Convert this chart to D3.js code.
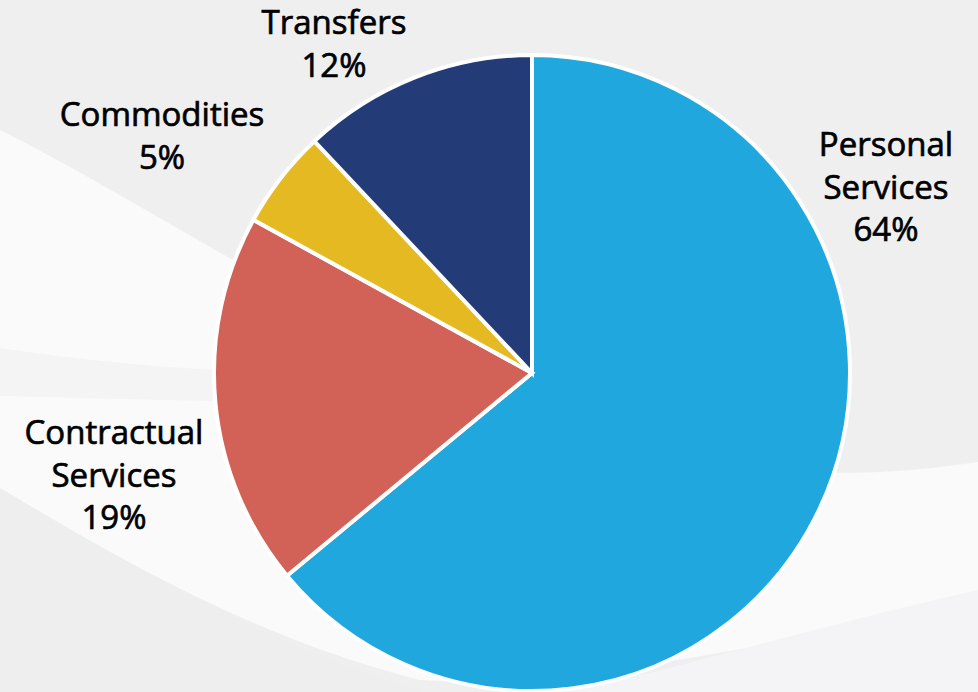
<!DOCTYPE html>
<html>
<head>
<meta charset="utf-8">
<script src="https://cdn.jsdelivr.net/npm/d3@7/dist/d3.min.js"></script>
<style>
  html, body { margin: 0; padding: 0; background: #efeff0; }
  svg { display: block; }
  text { font-family: "Open Sans", "Liberation Sans", Arial, sans-serif; }
</style>
</head>
<body>
<svg id="chart" width="978" height="692"></svg>
<script>
// Budget breakdown by expenditure category (percent of total)
const categories = ["Personal Services", "Contractual Services", "Commodities", "Transfers"];
const shares = [64, 19, 5, 12];
const colors = ["#20a8de", "#d26257", "#e5b921", "#233b77"];
// Label lines per category
const labelLines = [
  ["Personal", "Services", "64%"],
  ["Contractual", "Services", "19%"],
  ["Commodities", "5%"],
  ["Transfers", "12%"]
];
// Text anchor (centre x, first baseline y) for each label block
const labelAnchors = [[886, 156], [114, 444], [162, 126], [334, 34]];

const W = 978, H = 692;
const cx = 532, cy = 373, R = 318;
const svg = d3.select("#chart");

// Soft background swooshes
const bg = svg.append("g");
bg.append("rect").attr("width", W).attr("height", H).attr("fill", "#efeff0");
bg.append("path")
  .attr("d", "M0,130 C120,190 230,265 420,360 C600,450 760,495 978,462 L978,600 C800,640 560,690 420,680 C260,640 120,560 0,488 Z")
  .attr("fill", "#fafafb");
bg.append("path")
  .attr("d", "M0,348 C80,360 160,368 260,372 L260,402 C160,400 80,398 0,396 Z")
  .attr("fill", "#f4f4f5");
bg.append("path")
  .attr("d", "M978,590 C800,630 640,680 560,692 L978,692 Z")
  .attr("fill", "#f4f4f6");
bg.append("path")
  .attr("d", "M0,488 C120,560 260,640 420,692 L0,692 Z")
  .attr("fill", "#eeeeef");

// Pie
const pie = d3.pie().sort(null).value(d => d)(shares);
const arc = d3.arc().innerRadius(0).outerRadius(R);
const g = svg.append("g").attr("transform", `translate(${cx},${cy})`);
g.selectAll("path.slice")
  .data(pie)
  .join("path")
  .attr("class", "slice")
  .attr("d", arc)
  .attr("fill", (d, i) => colors[i])
  .attr("stroke", "#ffffff")
  .attr("stroke-width", 4)
  .attr("stroke-linejoin", "miter");

// Labels
const lineH = 42.5;
const labels = svg.append("g");
categories.forEach((c, i) => {
  const t = labels.append("text")
    .attr("text-anchor", "middle")
    .attr("font-size", 33)
    .attr("font-weight", 400)
    .attr("fill", "#000")
    .attr("stroke", "#000")
    .attr("stroke-width", 0.7);
  labelLines[i].forEach((ln, j) => {
    t.append("tspan")
      .attr("x", labelAnchors[i][0])
      .attr("y", labelAnchors[i][1] + j * lineH)
      .text(ln);
  });
});
</script>
</body>
</html>
